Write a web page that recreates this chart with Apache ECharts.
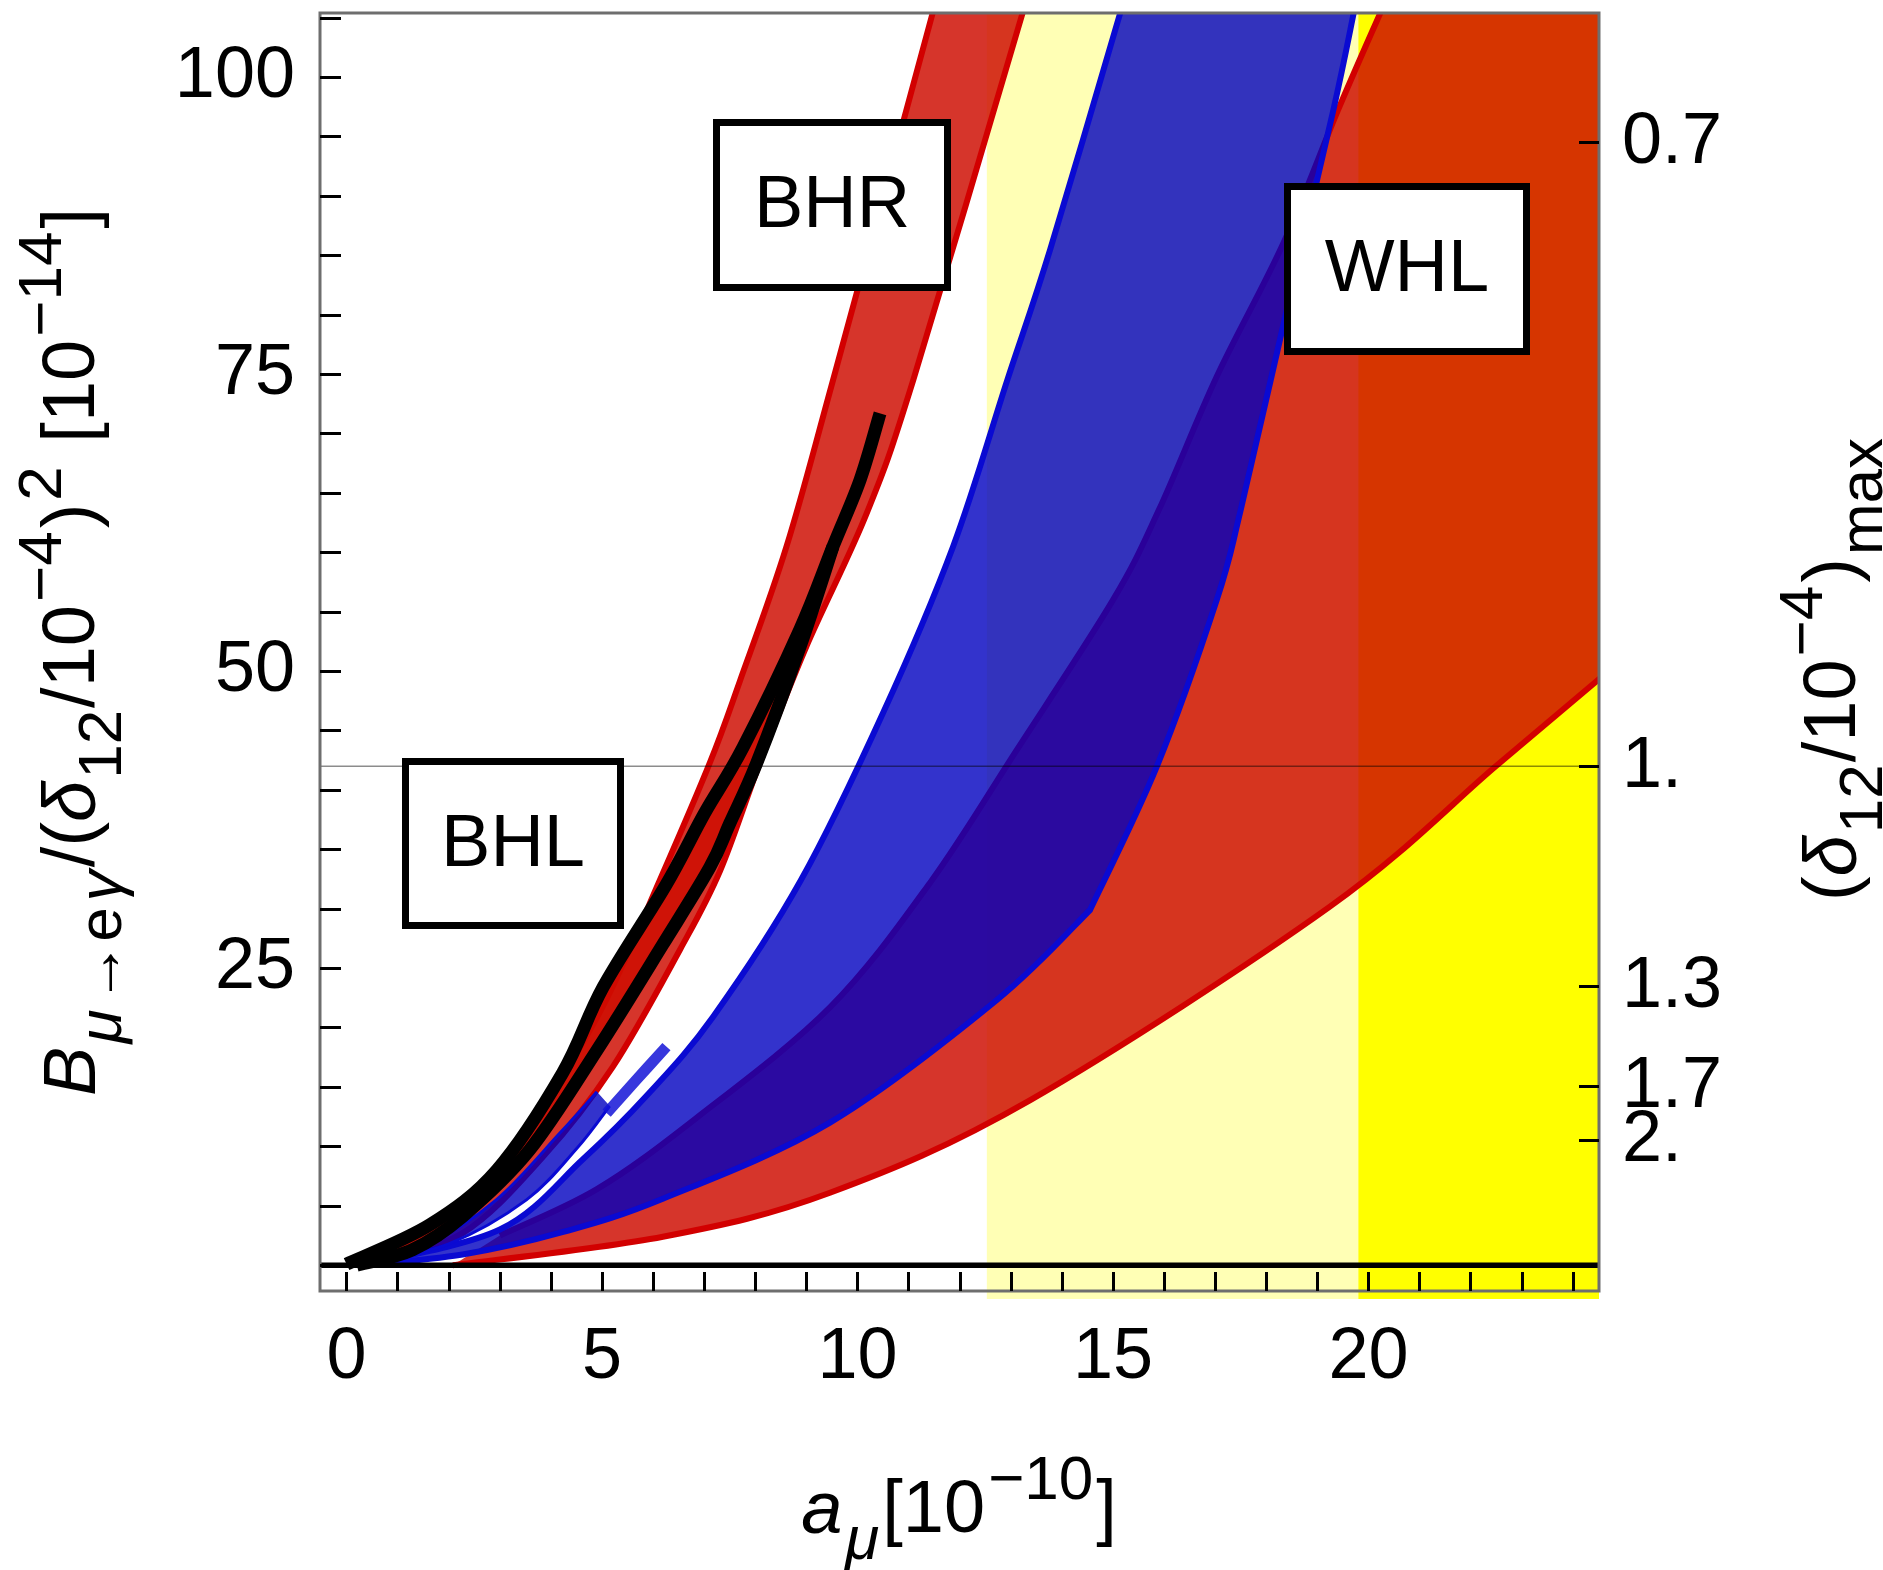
<!DOCTYPE html>
<html>
<head>
<meta charset="utf-8">
<script src="https://cdn.jsdelivr.net/npm/echarts@6/dist/echarts.min.js"></script>
<style>
html, body { margin: 0; padding: 0; background: #fff; }
#chart { width: 1883px; height: 1570px; }
</style>
</head>
<body>
<div id="chart"></div>
<script>
var F = '"Liberation Sans", Arial, Helvetica, sans-serif';

// axes
var xTicks = [0,1,2,3,4,5,6,7,8,9,10,11,12,13,14,15,16,17,18,19,20,21,22,23,24];
var xLabels = [0,5,10,15,20];
var yTicks = [0,5,10,15,20,25,30,35,40,45,50,55,60,65,70,75,80,85,90,95,100,105];
var yLabels = [25,50,75,100];
var deltaTicks = [94.5, 42.0, 23.5, 15.1, 10.5];
var deltaLabels = ['0.7', '1.', '1.3', '1.7', '2.'];
var deltaOne = 42.0;

// a_mu ranges (yellow)
var lightYellow = [12.53, 19.80];
var brightYellow = [19.80, 24.51];

// wide red band
var redUpper = [[3.0,2.5],[4.9,6.4],[6.85,12.4],[9.46,21.7],[11.42,32.2],[13.12,43.4],[15.0,56.0],[15.9,63.6],[17.03,74.8],[18.33,86.0],[19.4,97.2],[20.23,105.4]];
var redLower = [[2.08,0.0],[6.19,2.4],[9.46,6.1],[13.38,13.9],[19.25,30.2],[22.49,42.0],[24.53,49.4]];

// wide blue band
var blueUpper = [[0.3,0.0],[3.0,3.0],[4.62,8.9],[5.88,14.3],[7.17,20.9],[8.89,32.4],[10.5,46.5],[11.87,60.5],[12.93,74.5],[13.77,85.5],[15.14,105.4]];
var blueLowerA = [[0.3,0.0],[2.27,0.9],[4.24,2.8],[6.19,5.6],[9.46,12.0],[12.72,22.3],[14.55,29.9]];
var blueLowerB = [[14.55,29.9],[15.86,42.0],[17.03,56.0],[17.5,63.6],[18.4,80.4],[19.31,97.2],[19.71,105.4]];

// BHR band
var bhrUpper = [[0.4,0.2],[1.6,3.2],[2.9,7.8],[4.2,15.8],[5.1,22.5],[6.13,32.4],[7.11,42.3],[7.70,49.2],[8.61,60.5],[9.52,74.5],[11.47,105.4]];
var bhrLower = [[0.4,0.0],[2.27,2.7],[3.84,9.1],[5.21,16.7],[6.53,26.6],[7.31,33.2],[8.09,42.3],[9.0,52.1],[10.18,63.3],[11.09,74.5],[13.23,105.4]];

// BHL band (black edges)
var bhlLeft = [[0.0,0.1],[1.63,3.4],[2.94,8.0],[4.23,16.2],[5.02,23.4],[6.25,32.0],[7.0,38.0],[7.76,43.6],[8.87,53.5],[9.52,60.5],[10.05,66.1],[10.44,71.7]];
var bhlRight = [[0.2,0.0],[1.29,1.3],[2.27,4.1],[3.58,9.7],[4.9,18.1],[6.19,27.0],[7.11,33.5],[7.5,37.2],[8.03,42.3],[8.87,52.0],[9.52,60.5]];

// narrow blue band
var smallBlueUpper = [[0.3,0.0],[1.5,1.5],[2.93,5.5],[4.17,11.1],[4.9,14.6]];
var smallBlueLower = [[0.3,0.0],[2.0,1.8],[3.52,5.5],[4.5,9.8],[5.15,13.4]];
var smallBlueTip = [[5.09,12.8],[5.67,15.6],[6.26,18.4]];

var RED = 'rgba(206,12,0,0.83)';
var RED_LINE = '#d20000';
var BLUE = 'rgba(0,0,191,0.8)';
var BLUE_LINE = '#0a0ad2';

function fmt(p) { return p[0].toFixed(2) + ' ' + p[1].toFixed(2); }

function curveD(px, move) {
    var d = (move ? 'M' : 'L') + fmt(px[0]);
    for (var i = 0; i < px.length - 1; i++) {
        var p0 = px[i - 1] || px[i], p1 = px[i], p2 = px[i + 1], p3 = px[i + 2] || px[i + 1];
        var c1 = [p1[0] + (p2[0] - p0[0]) / 6, p1[1] + (p2[1] - p0[1]) / 6];
        var c2 = [p2[0] - (p3[0] - p1[0]) / 6, p2[1] - (p3[1] - p1[1]) / 6];
        d += ' C' + fmt(c1) + ' ' + fmt(c2) + ' ' + fmt(p2);
    }
    return d;
}

function piecesD(api, pieces, move, reverse) {
    var list = pieces.map(function (pc) {
        var px = pc.map(function (p) { return api.coord(p); });
        return reverse ? px.reverse() : px;
    });
    if (reverse) list.reverse();
    var d = '';
    list.forEach(function (px, k) { d += (k ? ' ' : '') + curveD(px, move && k === 0); });
    return d;
}

function flat(pieces) {
    var out = [];
    pieces.forEach(function (pc) { out = out.concat(pc); });
    return out;
}

function band(name, upper, lower, fill, stroke, lw, z, viaCorner) {
    return {
        type: 'custom', name: name, z: z, clip: true, silent: true,
        data: flat(upper).concat(flat(lower)),
        encode: { x: 0, y: 1 },
        renderItem: function (params, api) {
            if (params.dataIndex !== 0) return null;
            var cs = params.coordSys;
            var children = [];
            if (fill) {
                var d = piecesD(api, upper, true, false);
                if (viaCorner) d += ' L' + (cs.x + cs.width + 6) + ' ' + (cs.y - 6);
                d += ' ' + piecesD(api, lower, false, true) + ' Z';
                children.push({ type: 'path', shape: { pathData: d }, style: { fill: fill, stroke: 'none' } });
            }
            if (stroke) {
                [upper, lower].forEach(function (edge) {
                    children.push({ type: 'path', shape: { pathData: piecesD(api, edge, true, false) },
                        style: { fill: 'none', stroke: stroke, lineWidth: lw, lineCap: 'butt', lineJoin: 'miter' } });
                });
            }
            return { type: 'group', children: children };
        }
    };
}

function curve(name, pts, stroke, lw, z) {
    return {
        type: 'custom', name: name, z: z, clip: true, silent: true,
        data: pts, encode: { x: 0, y: 1 },
        renderItem: function (params, api) {
            if (params.dataIndex !== 0) return null;
            return { type: 'path', shape: { pathData: piecesD(api, [pts], true, false) },
                style: { fill: 'none', stroke: stroke, lineWidth: lw, lineCap: 'butt', lineJoin: 'round' } };
        }
    };
}

function hLine(name, yv, stroke, lw, z) {
    return {
        type: 'custom', name: name, z: z, silent: true,
        data: [[0, yv]], encode: { x: 0, y: 1 },
        renderItem: function (params, api) {
            var cs = params.coordSys;
            var y = api.coord([0, yv])[1];
            return { type: 'line', shape: { x1: cs.x, y1: y, x2: cs.x + cs.width, y2: y },
                style: { stroke: stroke, lineWidth: lw } };
        }
    };
}

function yellow(name, range, color, z) {
    return {
        type: 'custom', name: name, z: z, silent: true,
        data: [[range[0], 0], [range[1], 0]], encode: { x: 0, y: 1 },
        renderItem: function (params, api) {
            if (params.dataIndex !== 0) return null;
            var cs = params.coordSys;
            var x0 = api.coord([range[0], 0])[0], x1 = Math.min(api.coord([range[1], 0])[0], cs.x + cs.width + 2);
            return { type: 'rect', shape: { x: x0, y: cs.y, width: x1 - x0, height: cs.height + 8 },
                style: { fill: color } };
        }
    };
}

// right-hand (delta12)max labels, placed on the shared y scale
var deltaLabelSeries = {
    type: 'custom', name: 'delta labels', z: 10, silent: true,
    data: deltaTicks.map(function (v) { return [0, v]; }), encode: { x: 0, y: 1 },
    renderItem: function (params, api) {
        var cs = params.coordSys;
        var y = api.coord([0, api.value(1)])[1];
        return { type: 'text', x: cs.x + cs.width + 23, y: y + 1,
            style: { text: deltaLabels[params.dataIndex], fontSize: 72, fontFamily: F, fill: '#000',
                align: 'left', verticalAlign: 'middle' } };
    }
};

var rich = {
    m: { fontSize: 74, fontFamily: F, fill: '#000', lineHeight: 122, verticalAlign: 'middle' },
    mi: { fontSize: 74, fontFamily: F, fontStyle: 'italic', fill: '#000', lineHeight: 122, verticalAlign: 'middle' },
    sub: { fontSize: 62, fontFamily: F, fill: '#000', lineHeight: 64, verticalAlign: 'bottom', padding: [0, 3, 0, 3] },
    subn: { fontSize: 62, fontFamily: F, fill: '#000', lineHeight: 92, verticalAlign: 'bottom', padding: [0, 2, 0, 2] },
    subi: { fontSize: 62, fontFamily: F, fontStyle: 'italic', fill: '#000', lineHeight: 64, verticalAlign: 'bottom', padding: [0, 3, 0, 3] },
    sup: { fontSize: 62, fontFamily: F, fill: '#000', lineHeight: 64, verticalAlign: 'top', padding: [0, 3, 0, 3] }
};

function boxLabel(text, x0, y0, x1, y1) {
    return {
        type: 'group', z: 100, silent: true,
        children: [
            { type: 'rect', z: 100, shape: { x: x0 + 3.5, y: y0 + 3.5, width: x1 - x0 - 7, height: y1 - y0 - 7 },
              style: { fill: '#fff', stroke: '#000', lineWidth: 7 } },
            { type: 'text', z: 101, x: (x0 + x1) / 2, y: (y0 + y1) / 2 + 2,
              style: { text: text, fontSize: 74, fontFamily: F, fill: '#000', align: 'center', verticalAlign: 'middle' } }
        ]
    };
}

var chart = echarts.init(document.getElementById('chart'), null, { renderer: 'canvas' });

var option = {
    animation: false,
    backgroundColor: '#fff',
    grid: { left: 320, top: 13, width: 1279, height: 1278, show: true, borderColor: '#6e6e6e', borderWidth: 3,
        backgroundColor: 'transparent', z: 10 },
    xAxis: {
        type: 'value', min: -0.52, max: 24.51, z: 10,
        axisLine: { show: false, onZero: false }, splitLine: { show: false },
        axisTick: { show: true, inside: true, length: 19, customValues: xTicks, lineStyle: { color: '#000', width: 3 } },
        axisLabel: { customValues: xLabels, fontSize: 72, fontFamily: F, color: '#000', margin: 31 }
    },
    yAxis: [{
        type: 'value', min: -2.17, max: 105.4, z: 10,
        axisLine: { show: false, onZero: false }, splitLine: { show: false },
        axisTick: { show: true, inside: true, length: 21, customValues: yTicks, lineStyle: { color: '#000', width: 3 } },
        axisLabel: { customValues: yLabels, fontSize: 72, fontFamily: F, color: '#000', margin: 25 }
    }, {
        type: 'value', min: -2.17, max: 105.4, position: 'right', z: 10,
        axisLine: { show: false, onZero: false }, splitLine: { show: false },
        axisTick: { show: true, inside: true, length: 20, customValues: deltaTicks, lineStyle: { color: '#000', width: 3 } },
        axisLabel: { show: false }
    }],
    series: [
        yellow('light yellow', lightYellow, '#ffffb5', 1),
        yellow('yellow', brightYellow, '#ffff00', 1),
        band('WHL red', [redUpper], [redLower], RED, RED_LINE, 6, 2, true),
        band('BHR', [bhrUpper], [bhrLower], RED, RED_LINE, 6, 3),
        band('BHL fill', [bhlLeft.slice(0, 10)], [bhlRight], RED, null, 0, 4),
        band('WHL blue', [blueUpper], [blueLowerA, blueLowerB], BLUE, BLUE_LINE, 6, 5),
        band('small blue', [smallBlueUpper], [smallBlueLower], BLUE, BLUE_LINE, 3, 6),
        curve('small blue tip', smallBlueTip, 'rgba(20,20,215,0.85)', 11, 6),
        curve('BHL left', bhlLeft, '#000', 13, 7),
        curve('BHL right', bhlRight, '#000', 13, 7),
        hLine('delta one', deltaOne, 'rgba(0,0,0,0.45)', 1.5, 8),
        hLine('zero', 0, '#000', 5.5, 8),
        deltaLabelSeries
    ],
    graphic: [
        boxLabel('BHR', 713, 119, 951, 291),
        boxLabel('BHL', 402, 758, 624, 929),
        boxLabel('WHL', 1284, 183, 1530, 355),
        { type: 'text', x: 74, y: 652, rotation: Math.PI / 2, z: 100, silent: true,
          style: { text: '{mi|B}{subi|μ}{sub|→e}{subi|γ}{m|/(}{mi|δ}{subn|12}{m|/10}{sup|−4}{m|)}{sup|2}{m| [10}{sup|−14}{m|]}',
                   rich: rich, align: 'center', verticalAlign: 'middle' } },
        { type: 'text', x: 1835, y: 668, rotation: Math.PI / 2, z: 100, silent: true,
          style: { text: '{m|(}{mi|δ}{subn|12}{m|/10}{sup|−4}{m|)}{sub|max}',
                   rich: rich, align: 'center', verticalAlign: 'middle' } },
        { type: 'text', x: 959, y: 1512, z: 100, silent: true,
          style: { text: '{mi|a}{subi|μ}{m|[10}{sup|−10}{m|]}',
                   rich: rich, align: 'center', verticalAlign: 'middle' } }
    ]
};

chart.setOption(option);
</script>
</body>
</html>
